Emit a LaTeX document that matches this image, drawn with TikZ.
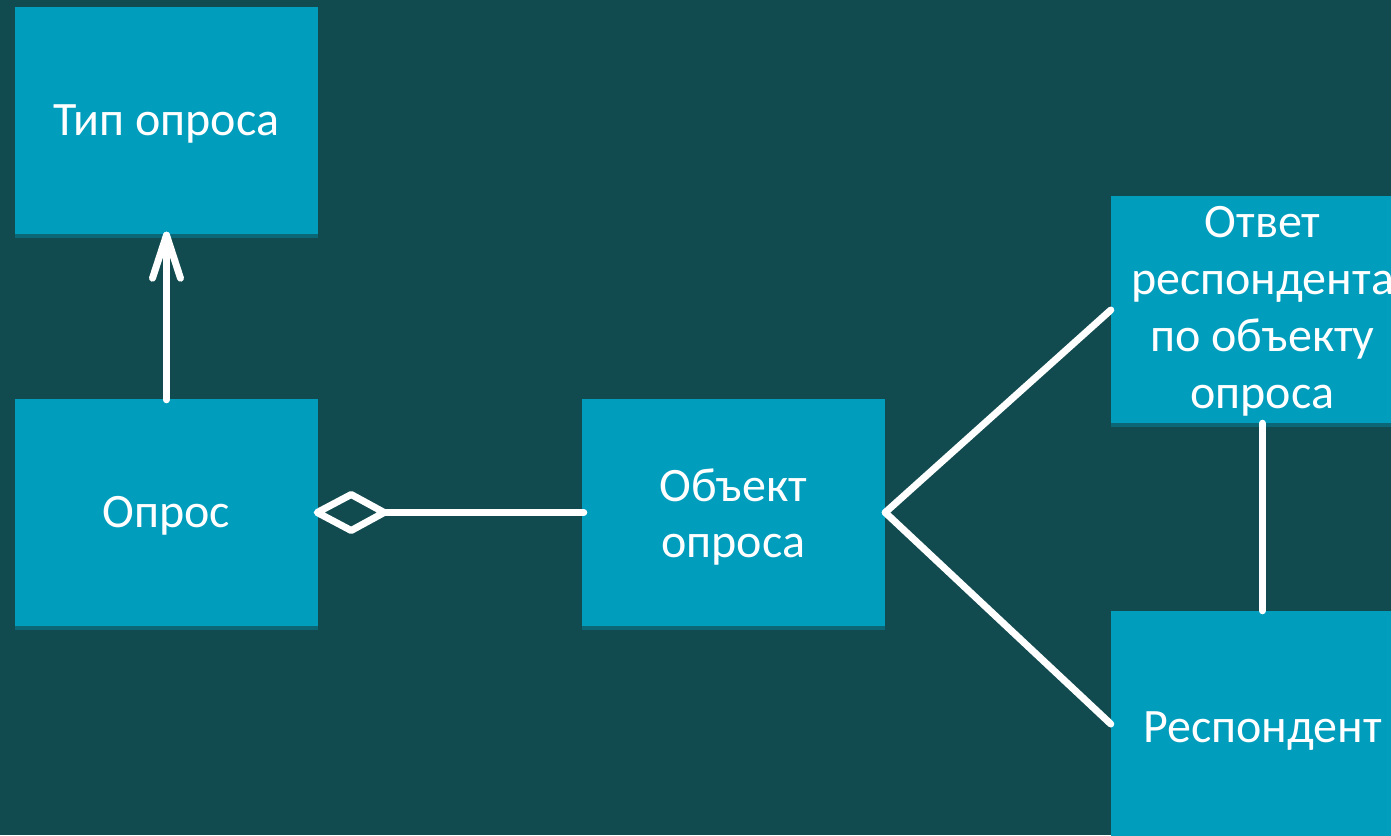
\documentclass[tikz,border=0pt]{standalone}
\usepackage{fontspec}
\setmainfont{Carlito}
\usetikzlibrary{calc,shadows}
\definecolor{bgc}{RGB}{17,75,80}
\definecolor{boxc}{RGB}{0,157,189}
\begin{document}
\begin{tikzpicture}[x=1pt,y=-1pt,
  box/.style={rectangle, fill=boxc, text=white, inner sep=0pt, minimum width=303pt, minimum height=227pt, align=center,
    font=\fontsize{48}{56}\selectfont,
    general shadow={fill=boxc, opacity=0.35, shadow yshift=-4pt}},
  conn/.style={draw=white, line width=7pt, line cap=round, line join=round}]
\fill[bgc] (0,0) rectangle (1391,835);
\useasboundingbox (0,0) rectangle (1391,835);
\node[box, text height=29pt, text depth=0pt] (tip) at (166.5,120.5) {Тип опроса};
\node[box, text height=29pt, text depth=0pt] (opr) at (166.5,512.5) {Опрос};
\node[box, text height=89pt, text depth=0pt] (obj) at (733.5,512.5) {Объект\\опроса};
\node[box, font=\fontsize{48}{57}\selectfont, text height=197pt, text depth=0pt] (otv) at (1262.5,309.5) {Ответ\\респондента\\по объекту\\опроса};
\node[box, text height=35pt, text depth=0pt] (res) at (1262.5,724.5) {Респондент};
% arrow Опрос -> Тип опроса
\draw[conn] ($(opr.north)+(0,1)$) -- ($(tip.south)+(0,1)$);
\draw[conn] ($(tip.south)+(-14,44)$) -- ($(tip.south)+(0,1)$) -- ($(tip.south)+(14,44)$);
% aggregation Объект -> Опрос
\coordinate (dtip) at ($(opr.east)+(-1,0)$);
\draw[conn] (dtip) -- ++(34,-18) -- ++(33,18) -- ++(-33,18) -- cycle;
\draw[conn] ($(dtip)+(67,0)$) -- ($(obj.west)+(2,0)$);
% lines to right boxes
\draw[conn] (obj.east) -- ($(otv.west)+(0,0.5)$);
\draw[conn] (obj.east) -- ($(res.west)+(0,-0.5)$);
\draw[conn] (otv.south) -- (res.north);
\end{tikzpicture}
\end{document}
